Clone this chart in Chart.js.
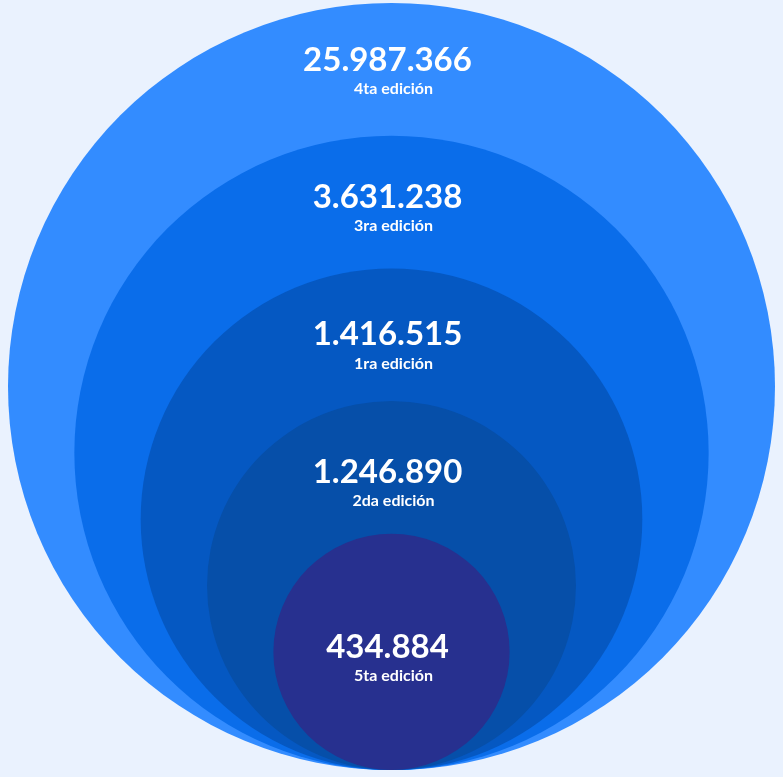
<!DOCTYPE html>
<html>
<head>
<meta charset="utf-8">
<script src="https://cdn.jsdelivr.net/npm/chart.js@4"></script>
<style>
  html, body { margin: 0; padding: 0; background: #eaf2fe; }
  #wrap { width: 783px; height: 777px; }
</style>
</head>
<body>
<div id="wrap"><canvas id="circles"></canvas></div>
<script>
// datos (ordenados de mayor a menor)
const ediciones = ["4ta edición", "3ra edición", "1ra edición", "2da edición", "5ta edición"];
const valores = [25987366, 3631238, 1416515, 1246890, 434884];
const colores = ["#338cff", "#0a6dea", "#0558c2", "#064fa9", "#27308f"];

// cada círculo es un paso más chico que el anterior
const paso = 0.173;
const fraccion = i => 1 - paso * i;

function formatear(n) {
    return n.toString().replace(/\B(?=(\d{3})+(?!\d))/g, ".");
}

const etiquetas = {
    id: "etiquetas",
    afterDatasetsDraw(chart) {
        const ctx = chart.ctx;
        const puntos = chart.getDatasetMeta(0).data;
        const rMax = puntos[0].options.radius;
        ctx.save();
        ctx.fillStyle = "#ffffff";
        ctx.textAlign = "center";
        ctx.textBaseline = "middle";
        puntos.forEach((p, i) => {
            const r = p.options.radius;
            // el último círculo lleva el texto en el centro
            const y = i === puntos.length - 1
                ? p.y - 5
                : p.y - r + 57 + 0.07 * (rMax - r);
            ctx.font = "bold 33px Lato";
            ctx.fillText(formatear(valores[i]), p.x - 4, y);
            ctx.font = "bold 16px Lato";
            ctx.fillText(ediciones[i], p.x + 2, y + 29);
        });
        ctx.restore();
    }
};

const ctx = document.getElementById("circles").getContext("2d");
new Chart(ctx, {
    type: "scatter",
    data: {
        labels: ediciones,
        datasets: [{
            data: valores.map((v, i) => ({ x: 0, y: fraccion(i) })),
            pointBackgroundColor: colores,
            pointBorderWidth: 0,
            clip: false,
            // el radio se calcula cuando ya existe el área del gráfico
            pointRadius: c => {
                const area = c.chart.chartArea;
                if (!area) return 0;
                return fraccion(c.dataIndex) * area.height / 2;
            }
        }]
    },
    options: {
        responsive: true,
        maintainAspectRatio: false,
        animation: false,
        events: [],
        layout: { padding: { left: 8, right: 8, top: 3, bottom: 7 } },
        scales: {
            x: { display: false, min: -1, max: 1 },
            y: { display: false, min: 0, max: 2 }
        },
        plugins: {
            legend: { display: false },
            tooltip: { enabled: false }
        }
    },
    plugins: [etiquetas]
});
</script>
</body>
</html>
